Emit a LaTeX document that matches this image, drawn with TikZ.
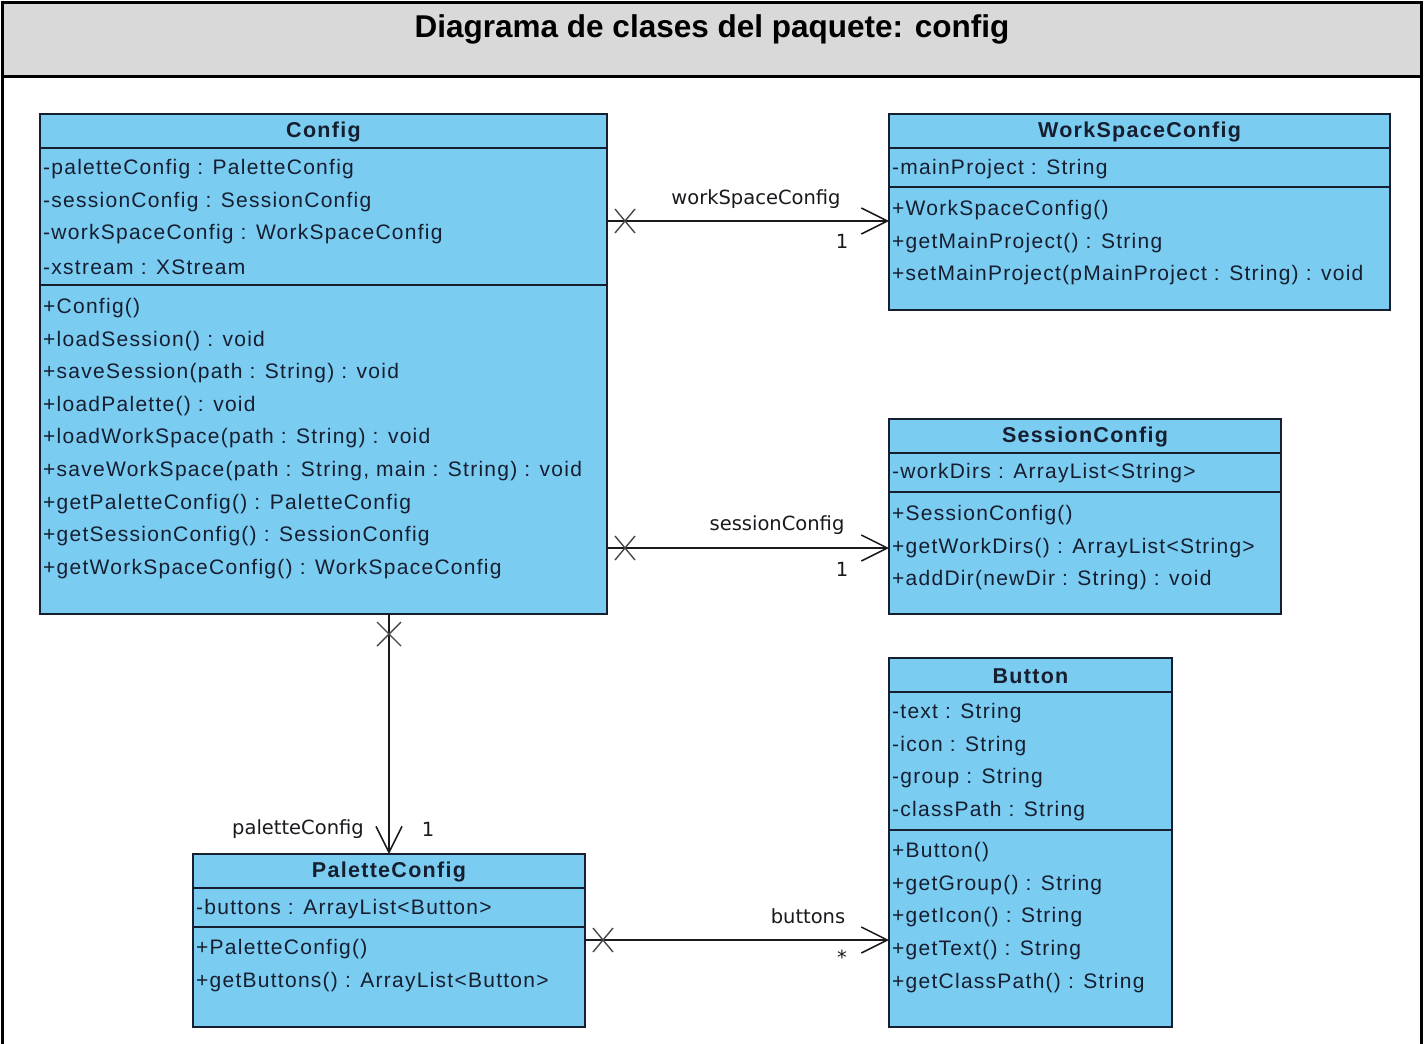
\documentclass[tikz,border=0pt]{standalone}
\usepackage{fontspec}
\setmainfont{Liberation Sans}
\newfontfamily\umlfont[LetterSpace=6]{Liberation Sans}
\newfontfamily\rolefont{DejaVu Sans}
\usetikzlibrary{calc,arrows.meta}
\definecolor{classfill}{RGB}{122,204,241}
\definecolor{headgray}{RGB}{217,217,217}
\definecolor{ink}{RGB}{22,30,48}
\definecolor{lineink}{RGB}{25,25,30}

\begin{document}
\begin{tikzpicture}[x=1pt,y=-1pt,
  classbox/.style={draw=ink,line width=1.6pt,fill=classfill,anchor=north west,inner sep=0pt,outer sep=0pt},
  sepline/.style={draw=ink,line width=1.6pt},
  member/.style={anchor=west,inner sep=0pt,text=ink,font=\umlfont\fontsize{21}{21}\selectfont},
  cname/.style={anchor=center,inner sep=0pt,text=ink,font=\umlfont\bfseries\fontsize{21.5}{21.5}\selectfont},
  elabel/.style={inner sep=0pt,text=lineink,font=\rolefont\fontsize{19.5}{19.5}\selectfont},
  assoc/.style={draw=lineink,line width=1.5pt,-{Straight Barb[length=26pt,width=26pt,line width=1.5pt]}},
  xmark/.style={draw=lineink!80,line width=1.4pt},
]
\useasboundingbox (0,0) rectangle (1425,1044);
\fill[white] (0,0) rectangle (1425,1044);

% frame and heading
\fill[headgray] (2,2) rectangle (1421,76);
\draw[line width=3pt] (2,1044) -- (2,2) -- (1421,2) -- (1421,1044);
\draw[line width=3pt] (2,76) -- (1421,76);
\node[inner sep=0pt,font=\bfseries\fontsize{31.5}{31.5}\selectfont] (title) at (712,29) {Diagrama de clases del paquete: config};

% ---- Config ----
\node[classbox,minimum width=567pt,minimum height=500pt] (config) at (40,114) {};
\draw[sepline] ($(config.north west)+(0,34)$) -- ($(config.north east)+(0,34)$);
\draw[sepline] ($(config.north west)+(0,171)$) -- ($(config.north east)+(0,171)$);
\node[cname] (config-name) at (323.5,132) {Config};
\foreach \t [count=\i] in {-paletteConfig : PaletteConfig,-sessionConfig : SessionConfig,-workSpaceConfig : WorkSpaceConfig,-xstream : XStream}
  \node[member] (config-a\i) at (43,{169+(\i-1)*32.7}) {\t};
\foreach \t [count=\i] in {+Config(),+loadSession() : void,+saveSession(path : String) : void,+loadPalette() : void,+loadWorkSpace(path : String) : void,{+saveWorkSpace(path : String, main : String) : void},+getPaletteConfig() : PaletteConfig,+getSessionConfig() : SessionConfig,+getWorkSpaceConfig() : WorkSpaceConfig}
  \node[member] (config-m\i) at (43,{308+(\i-1)*32.6}) {\t};

% ---- WorkSpaceConfig ----
\node[classbox,minimum width=501pt,minimum height=196pt] (wsc) at (889,114) {};
\draw[sepline] ($(wsc.north west)+(0,34)$) -- ($(wsc.north east)+(0,34)$);
\draw[sepline] ($(wsc.north west)+(0,73)$) -- ($(wsc.north east)+(0,73)$);
\node[cname] (wsc-name) at (1139.5,132) {WorkSpaceConfig};
\node[member] (wsc-a1) at (892,169) {-mainProject : String};
\foreach \t [count=\i] in {+WorkSpaceConfig(),+getMainProject() : String,+setMainProject(pMainProject : String) : void}
  \node[member] (wsc-m\i) at (892,{210+(\i-1)*32.6}) {\t};

% ---- SessionConfig ----
\node[classbox,minimum width=392pt,minimum height=195pt] (session) at (889,419) {};
\draw[sepline] ($(session.north west)+(0,34)$) -- ($(session.north east)+(0,34)$);
\draw[sepline] ($(session.north west)+(0,73)$) -- ($(session.north east)+(0,73)$);
\node[cname] (session-name) at (1085,437) {SessionConfig};
\node[member] (session-a1) at (892,473) {-workDirs : ArrayList<String>};
\foreach \t [count=\i] in {+SessionConfig(),+getWorkDirs() : ArrayList<String>,+addDir(newDir : String) : void}
  \node[member] (session-m\i) at (892,{515+(\i-1)*32.6}) {\t};

% ---- Button ----
\node[classbox,minimum width=283pt,minimum height=369pt] (button) at (889,658) {};
\draw[sepline] ($(button.north west)+(0,34)$) -- ($(button.north east)+(0,34)$);
\draw[sepline] ($(button.north west)+(0,172)$) -- ($(button.north east)+(0,172)$);
\node[cname] (button-name) at (1030.5,676) {Button};
\foreach \t [count=\i] in {-text : String,-icon : String,-group : String,-classPath : String}
  \node[member] (button-a\i) at (892,{713+(\i-1)*32.7}) {\t};
\foreach \t [count=\i] in {+Button(),+getGroup() : String,+getIcon() : String,+getText() : String,+getClassPath() : String}
  \node[member] (button-m\i) at (892,{852+(\i-1)*32.7}) {\t};

% ---- PaletteConfig ----
\node[classbox,minimum width=392pt,minimum height=173pt] (palette) at (193,854) {};
\draw[sepline] ($(palette.north west)+(0,34)$) -- ($(palette.north east)+(0,34)$);
\draw[sepline] ($(palette.north west)+(0,73)$) -- ($(palette.north east)+(0,73)$);
\node[cname] (palette-name) at (389,872) {PaletteConfig};
\node[member] (palette-a1) at (196,909) {-buttons : ArrayList<Button>};
\foreach \t [count=\i] in {+PaletteConfig(),+getButtons() : ArrayList<Button>}
  \node[member] (palette-m\i) at (196,{949+(\i-1)*32.6}) {\t};

% ---- associations ----
\coordinate (ws-s) at (config.east |- 0,221);
\coordinate (ws-t) at (wsc.west |- 0,221);
\coordinate (se-s) at (config.east |- 0,548);
\coordinate (se-t) at (session.west |- 0,548);
\coordinate (pa-s) at (389,0 |- config.south);
\coordinate (pa-t) at (389,0 |- palette.north);
\coordinate (bu-s) at (palette.east |- 0,940);
\coordinate (bu-t) at (button.west |- 0,940);

\draw[assoc] (ws-s) -- (ws-t);
\draw[assoc] (se-s) -- (se-t);
\draw[assoc] (pa-s) -- (pa-t);
\draw[assoc] (bu-s) -- (bu-t);

% non-navigable ends
\draw[xmark] ($(ws-s)+(8,-12)$) -- ++(20,24) ++(0,-24) -- ++(-20,24);
\draw[xmark] ($(se-s)+(8,-12)$) -- ++(20,24) ++(0,-24) -- ++(-20,24);
\draw[xmark] ($(bu-s)+(8,-12)$) -- ++(20,24) ++(0,-24) -- ++(-20,24);
\draw[xmark] ($(pa-s)+(-12,8)$) -- ++(24,24) ++(0,-24) -- ++(-24,24);

% role names and multiplicities
\node[elabel] (ws-role) at (756,199) {workSpaceConfig};
\node[elabel] (ws-mult) at (842,241) {1};
\node[elabel] (se-role) at (777,525) {sessionConfig};
\node[elabel] (se-mult) at (842,569) {1};
\node[elabel] (pa-role) at (298,829) {paletteConfig};
\node[elabel] (pa-mult) at (428,829) {1};
\node[elabel] (bu-role) at (808,916) {buttons};
\node[elabel] (bu-mult) at (842,957) {*};
\end{tikzpicture}
\end{document}
